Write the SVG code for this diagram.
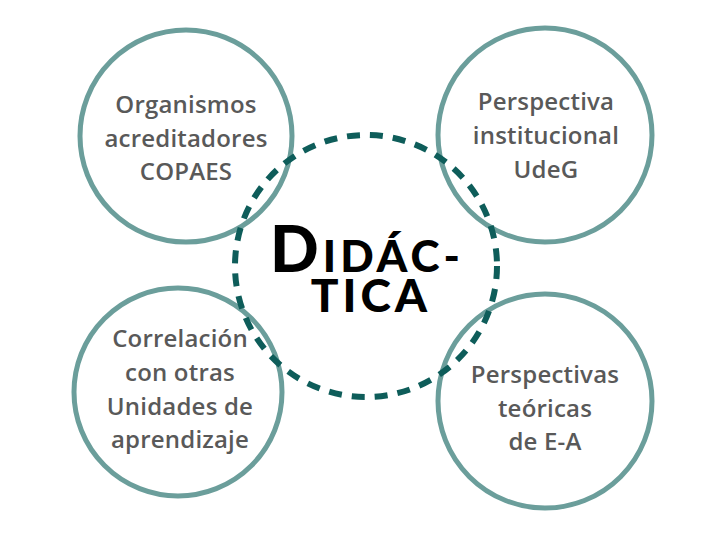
<svg xmlns="http://www.w3.org/2000/svg" width="720" height="540" viewBox="0 0 720 540">
<style>
.ring{fill:none;stroke:#6b9e9b;stroke-width:5}
.lbl{font-family:"Open Sans","Noto Sans",sans-serif;font-weight:600;font-size:24px;fill:#595959;text-anchor:middle;letter-spacing:0.2px}
.hub{fill:none;stroke:#0e5d5a;stroke-width:6;stroke-dasharray:13 10}
.title{font-family:Lato,"Liberation Sans",sans-serif;font-weight:900;fill:#000;text-anchor:middle}
</style>
<rect width="720" height="540" fill="#fff"/>
<g id="node-organismos">
<circle class="ring" cx="186" cy="136" r="106"/>
<text class="lbl"><tspan x="186" y="113">Organismos</tspan><tspan x="186" y="147">acreditadores</tspan><tspan x="186" y="180">COPAES</tspan></text>
</g>
<g id="node-institucional">
<circle class="ring" cx="545" cy="135" r="107"/>
<text class="lbl"><tspan x="546" y="110">Perspectiva</tspan><tspan x="546" y="144">institucional</tspan><tspan x="546" y="178">UdeG</tspan></text>
</g>
<g id="node-correlacion">
<circle class="ring" cx="178" cy="392" r="104"/>
<text class="lbl"><tspan x="180" y="347">Correlación</tspan><tspan x="180" y="381">con otras</tspan><tspan x="180" y="415">Unidades de</tspan><tspan x="180" y="448">aprendizaje</tspan></text>
</g>
<g id="node-teoricas">
<circle class="ring" cx="545" cy="401" r="107"/>
<text class="lbl"><tspan x="545" y="383">Perspectivas</tspan><tspan x="545" y="417">teóricas</tspan><tspan x="545" y="450">de E-A</tspan></text>
</g>
<g id="connectors"></g>
<g id="node-didactica">
<circle class="hub" cx="366" cy="266" r="131"/>
<text class="title" letter-spacing="4"><tspan x="367" y="272" font-size="64">D</tspan><tspan font-size="44">IDÁC-</tspan><tspan x="371" y="312" font-size="46">TICA</tspan></text>
</g>
</svg>
